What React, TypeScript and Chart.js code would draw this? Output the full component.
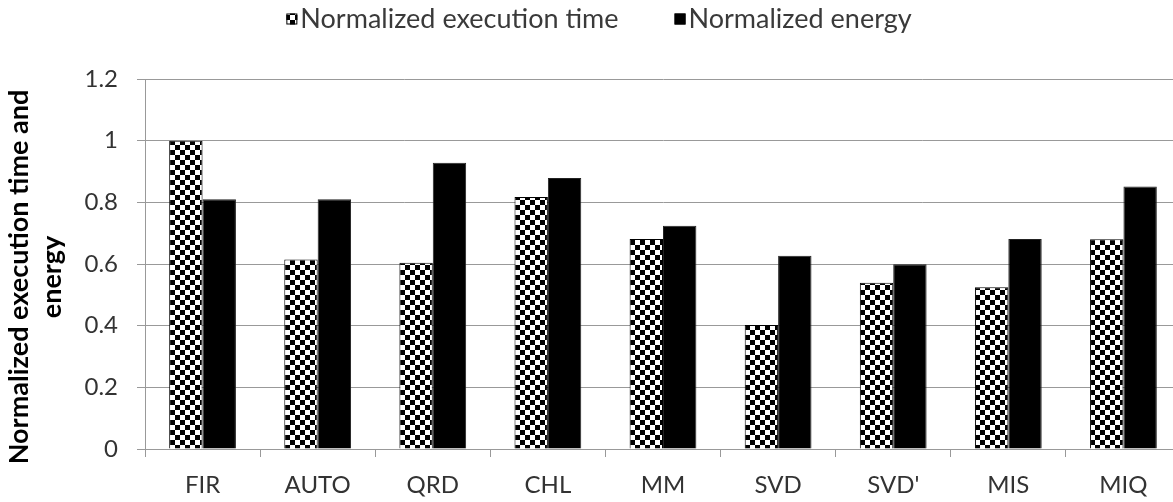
import React, { useEffect, useRef } from 'react';
import { Chart, registerables } from 'chart.js';

Chart.register(...registerables);

const categories = ['FIR', 'AUTO', 'QRD', 'CHL', 'MM', 'SVD', "SVD'", 'MIS', 'MIQ'];
const timeValues = [1.0, 0.615, 0.604, 0.817, 0.681, 0.402, 0.539, 0.525, 0.68];
const energyValues = [0.81, 0.81, 0.928, 0.879, 0.724, 0.627, 0.599, 0.681, 0.851];
const seriesLabels = ['Normalized execution time', 'Normalized energy'];
const yTickLabels = ['0', '0.2', '0.4', '0.6', '0.8', '1', '1.2'];
const yTitleLines = ['Normalized execution time and', 'energy'];

const FONT = 'Lato';

export default function App() {
  const ref = useRef<HTMLCanvasElement | null>(null);

  useEffect(() => {
    const canvas = ref.current;
    if (!canvas) return;
    const ctx = canvas.getContext('2d')!;
    const pc = document.createElement('canvas');
    pc.width = 10;
    pc.height = 10;
    const px = pc.getContext('2d')!;
    px.fillStyle = '#fff';
    px.fillRect(0, 0, 10, 10);
    px.fillStyle = '#000';
    px.fillRect(0, 0, 5, 5);
    px.fillRect(5, 5, 5, 5);
    const checker = ctx.createPattern(pc, 'repeat')!;

    const decor = {
      id: 'decor',
      afterDraw(chart: any) {
        const c = chart.ctx as CanvasRenderingContext2D;
        const area = chart.chartArea;
        c.save();
        // legend
        c.font = `27px ${FONT}`;
        const box = 11;
        const gap = 3;
        const spacing = 56;
        const w1 = c.measureText(seriesLabels[0]).width;
        const w2 = c.measureText(seriesLabels[1]).width;
        const total = box + gap + w1 + spacing + box + gap + w2;
        let x = 599 - total / 2;
        const yMid = 19;
        c.textBaseline = 'middle';
        c.textAlign = 'left';
        const fills = [checker, '#000'];
        const widths = [w1, w2];
        for (let i = 0; i < 2; i++) {
          c.fillStyle = fills[i] as any;
          c.fillRect(x, yMid - box / 2, box, box);
          c.strokeStyle = '#000';
          c.lineWidth = 1;
          c.strokeRect(x + 0.5, yMid - box / 2 + 0.5, box - 1, box - 1);
          x += box + gap;
          c.fillStyle = '#3a3a3a';
          c.fillText(seriesLabels[i], x, yMid);
          x += widths[i] + spacing;
        }
        // y title
        c.font = `bold 27px ${FONT}`;
        c.fillStyle = '#000';
        c.textAlign = 'center';
        c.textBaseline = 'alphabetic';
        const yc = (area.top + area.bottom) / 2 + 13;
        const baselines = [28, 61];
        for (let i = 0; i < yTitleLines.length; i++) {
          c.save();
          c.translate(baselines[i], yc);
          c.rotate(-Math.PI / 2);
          c.fillText(yTitleLines[i], 0, 0);
          c.restore();
        }
        c.restore();
      },
    };

    const chart = new Chart(canvas, {
      type: 'bar',
      data: {
        labels: categories,
        datasets: [
          {
            label: seriesLabels[0],
            data: timeValues,
            backgroundColor: checker as any,
            borderColor: '#000',
            borderWidth: 1,
            categoryPercentage: 0.58,
            barPercentage: 1,
          },
          {
            label: seriesLabels[1],
            data: energyValues,
            backgroundColor: '#000',
            borderColor: '#222',
            borderWidth: 1,
            categoryPercentage: 0.58,
            barPercentage: 1,
          },
        ],
      },
      options: {
        animation: false,
        responsive: false,
        devicePixelRatio: 1,
        layout: { padding: { top: 79, left: 0, right: 0, bottom: 0 } },
        plugins: {
          legend: { display: false },
          tooltip: { enabled: false },
        },
        scales: {
          x: {
            grid: { display: true, drawOnChartArea: false, offset: true, tickLength: 8, color: '#999' },
            border: { color: '#999' },
            ticks: { font: { family: FONT, size: 24 }, color: '#333', padding: 14 },
            afterFit(s: any) {
              s.height = 53;
            },
          },
          y: {
            min: 0,
            max: 1.2,
            ticks: {
              stepSize: 0.2,
              font: { family: FONT, size: 24 },
              color: '#333',
              padding: 19,
              callback: (_v: any, i: number) => yTickLabels[i],
            },
            grid: { color: '#999', tickLength: 8 },
            border: { color: '#999' },
            afterFit(s: any) {
              s.width = 145;
            },
          },
        },
      },
      plugins: [decor],
    });
    return () => chart.destroy();
  }, []);

  return (
    <div
      style={{
        position: 'absolute',
        left: 0,
        top: 0,
        width: 1173,
        height: 502,
        overflow: 'hidden',
        background: '#fff',
      }}
    >
      <canvas ref={ref} width={1181} height={502} style={{ display: 'block' }} />
    </div>
  );
}
